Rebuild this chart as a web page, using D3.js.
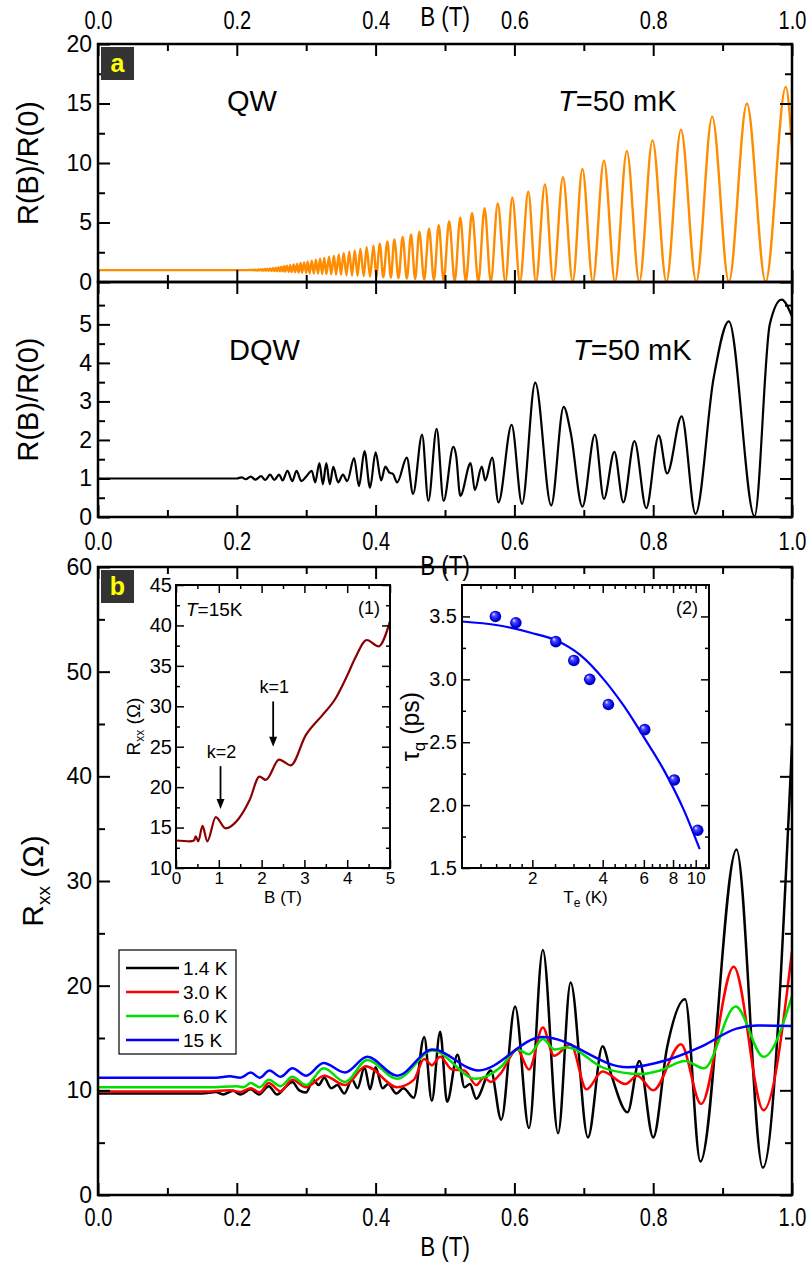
<!DOCTYPE html>
<html><head><meta charset="utf-8">
<script src="https://cdn.jsdelivr.net/npm/d3@7/dist/d3.min.js"></script>
<style>
html,body{margin:0;padding:0;background:#fff;}
svg{display:block;}
text{font-family:"Liberation Sans",Arial,Helvetica,sans-serif;fill:#000;}
</style></head>
<body><svg id="chart" width="811" height="1262"></svg>
<script>
// ================= DATA =================
// panel a (QW): maxima and minima of the orange trace
const qwPeakB=[0.221,0.224,0.227,0.231,0.234,0.237,0.241,0.244,0.248,0.252,0.256,0.260,0.264,0.268,0.272,0.277,0.282,0.287,0.292,0.297,0.302,0.308,0.314,0.320,0.326,0.333,0.340,0.347,0.354,0.362,0.370,0.378,0.387,0.397,0.406,0.417,0.427,0.439,0.451,0.463,0.477,0.491,0.506,0.522,0.539,0.557,0.576,0.597,0.620,0.644,0.670,0.698,0.729,0.762,0.799,0.840,0.885,0.935,0.991];
const qwPeakR=[1.02,1.03,1.04,1.05,1.06,1.08,1.10,1.12,1.14,1.17,1.20,1.24,1.28,1.32,1.37,1.42,1.47,1.52,1.60,1.65,1.72,1.80,1.87,1.95,2.03,2.12,2.22,2.32,2.43,2.54,2.65,2.78,2.92,3.08,3.22,3.40,3.58,3.78,4.00,4.22,4.48,4.78,5.10,5.42,5.80,6.20,6.60,7.10,7.60,8.20,8.80,9.50,10.2,11.0,11.9,12.8,13.9,15.0,16.4];
const qwValB=[0.223,0.226,0.229,0.232,0.236,0.239,0.242,0.246,0.250,0.254,0.258,0.262,0.266,0.270,0.275,0.279,0.284,0.289,0.294,0.300,0.305,0.311,0.317,0.323,0.329,0.336,0.343,0.350,0.358,0.366,0.374,0.383,0.392,0.401,0.411,0.422,0.433,0.445,0.457,0.470,0.484,0.498,0.514,0.530,0.548,0.566,0.587,0.608,0.631,0.656,0.684,0.713,0.745,0.780,0.819,0.862,0.909,0.962];
const qwValR=[0.98,0.98,0.97,0.97,0.96,0.96,0.95,0.94,0.93,0.92,0.91,0.90,0.89,0.87,0.86,0.84,0.82,0.80,0.78,0.76,0.74,0.72,0.70,0.68,0.66,0.64,0.62,0.60,0.57,0.55,0.52,0.49,0.46,0.43,0.40,0.36,0.32,0.28,0.24,0.20,0.16,0.12,0.08,0.05,0.02,0.02,0.02,0.02,0.02,0.02,0.02,0.02,0.02,0.02,0.02,0.02,0.02,0.02];
const qwEdgeB=[0,0.215,1.0];
const qwEdgeR=[1.0,1.0,11.3];

// panel a (DQW)
const dqwB=[0,0.18,0.2,0.207,0.213,0.22,0.227,0.235,0.241,0.248,0.254,0.261,0.266,0.273,0.28,0.286,0.293,0.3,0.308,0.313,0.319,0.324,0.329,0.334,0.339,0.346,0.353,0.359,0.369,0.376,0.384,0.392,0.4,0.408,0.414,0.42,0.425,0.431,0.445,0.454,0.467,0.476,0.488,0.498,0.512,0.516,0.522,0.537,0.543,0.553,0.558,0.568,0.577,0.596,0.611,0.63,0.653,0.671,0.681,0.698,0.716,0.729,0.744,0.757,0.773,0.79,0.808,0.82,0.841,0.861,0.887,0.909,0.946,0.968,0.985,1.0];
const dqwR=[1.0,1.0,1.0,1.03,0.98,1.05,0.97,1.06,0.96,1.1,0.96,1.1,0.95,1.2,0.93,1.2,0.93,1.05,1.2,0.9,1.4,0.85,1.4,0.85,1.3,0.9,1.1,0.93,1.53,0.8,1.71,0.76,1.68,0.95,1.31,1.15,1.12,0.9,1.54,0.6,2.14,0.42,2.29,0.42,1.82,1.6,0.55,1.4,0.7,1.31,0.95,1.54,0.38,2.39,0.34,3.49,0.30,2.86,2.2,0.27,2.14,0.47,1.69,0.38,1.97,0.23,2.12,1.13,2.61,0.08,3.6,5.08,0.02,5.0,5.64,5.2];

// panel b: Rxx(B) at four temperatures
const k14B=[0,0.15,0.17,0.18,0.195,0.205,0.22,0.232,0.246,0.258,0.27,0.28,0.29,0.30,0.31,0.318,0.326,0.336,0.345,0.355,0.366,0.374,0.384,0.392,0.40,0.41,0.418,0.43,0.44,0.455,0.47,0.481,0.493,0.503,0.518,0.528,0.536,0.545,0.566,0.581,0.601,0.621,0.641,0.663,0.681,0.706,0.727,0.74,0.763,0.78,0.80,0.82,0.846,0.868,0.92,0.958,1.0];
const k14R=[9.7,9.7,9.85,9.6,9.95,9.6,10.1,9.6,10.4,9.6,10.3,10.8,10.0,9.8,11.0,10.5,11.2,10.2,10.5,9.7,11.0,10.2,12.2,10.1,12.2,10.2,10.6,9.7,10.2,9.3,15.1,9.0,15.6,8.9,13.4,10.3,10.6,9.2,11.9,7.2,18.0,6.4,23.4,5.9,20.3,5.5,14.2,11.4,7.9,12.8,5.5,14.1,18.7,3.2,33.0,2.6,43.0];
const k30B=[0,0.16,0.19,0.205,0.22,0.233,0.246,0.263,0.28,0.30,0.326,0.356,0.386,0.431,0.455,0.47,0.481,0.493,0.51,0.528,0.545,0.556,0.566,0.58,0.604,0.621,0.641,0.657,0.681,0.704,0.727,0.76,0.777,0.80,0.84,0.869,0.916,0.959,1.0];
const k30R=[9.9,9.9,10.0,9.85,10.2,9.8,10.7,9.9,11.0,10.3,11.4,10.5,12.3,10.3,11.0,13.0,12.4,13.2,12.0,11.9,10.5,11.2,10.8,11.6,13.9,12.0,16.0,13.3,14.4,10.1,11.8,10.6,11.4,10.0,14.4,8.7,21.8,8.1,23.3];
const k60B=[0,0.16,0.2,0.21,0.22,0.233,0.246,0.263,0.28,0.30,0.325,0.356,0.388,0.431,0.482,0.545,0.58,0.604,0.621,0.641,0.658,0.676,0.73,0.783,0.81,0.846,0.873,0.919,0.959,1.0];
const k60R=[10.3,10.3,10.4,10.3,10.7,10.3,11.0,10.4,11.3,10.5,12.1,10.8,12.9,11.1,13.8,11.1,12.2,13.9,13.45,14.9,13.9,14.1,12.1,11.55,11.9,12.8,12.1,18.0,13.2,19.0];
const k15B=[0,0.17,0.19,0.205,0.22,0.233,0.247,0.263,0.28,0.30,0.325,0.356,0.388,0.431,0.482,0.548,0.641,0.763,0.82,0.87,0.92,0.95,1.0];
const k15R=[11.2,11.2,11.35,11.2,11.7,11.2,11.9,11.3,12.1,11.4,12.6,11.7,13.2,11.4,13.9,11.9,15.1,12.2,12.9,14.2,15.9,16.2,16.15];
const legendLabels=["1.4 K","3.0 K","6.0 K","15 K"];
const seriesColors=["#000000","#ff0000","#00e000","#0000ff"];

// inset (1): Rxx(B) at T=15K up to 5 T
const in1B=[0,0.32,0.42,0.46,0.52,0.62,0.73,0.93,1.16,1.45,1.72,1.95,2.10,2.41,2.68,3.03,3.42,3.72,4.0,4.19,4.46,4.73,5.0];
const in1R=[13.4,13.3,13.4,13.9,13.3,15.2,13.3,16.3,14.9,16.0,18.4,21.3,20.9,23.4,22.7,26.4,28.9,30.9,33.8,36.0,38.2,37.4,40.5];
const arrowB=[1.04,2.27], arrowTop=[22.6,30.6], arrowTip=[17.3,25.0], arrowLabels=["k=2","k=1"];

// inset (2): quantum lifetime vs electron temperature
const teK=[1.39,1.70,2.52,3.01,3.52,4.23,6.05,8.1,10.2];
const tauQ=[3.50,3.45,3.30,3.15,3.00,2.80,2.60,2.20,1.80];
const fitTe=[1.0,1.42,1.97,2.52,3.22,4.04,4.92,6.0,7.3,8.9,10.4];
const fitTau=[3.46,3.43,3.37,3.31,3.19,3.0,2.79,2.54,2.28,1.96,1.65];

// tick values
const xMajor=[0,0.2,0.4,0.6,0.8,1.0], xMinor=[0.1,0.3,0.5,0.7,0.9];
const a1Major=[0,5,10,15,20], a1Minor=[2.5,7.5,12.5,17.5];
const a2Major=[0,1,2,3,4,5], a2Minor=[0.5,1.5,2.5,3.5,4.5,5.5];
const bMajor=[0,10,20,30,40,50,60], bMinor=[5,15,25,35,45,55];
const i1xMajor=[0,1,2,3,4,5], i1xMinor=[0.5,1.5,2.5,3.5,4.5];
const i1yMajor=[10,15,20,25,30,35,40,45], i1yMinor=[12.5,17.5,22.5,27.5,32.5,37.5,42.5];
const i2xMajor=[2,4,6,8,10], i2xMinor=[1.2,1.4,1.6,1.8,2.5,3,3.5,4.5,5,5.5,6.5,7,7.5,8.5,9,9.5,11];
const i2yMajor=[1.5,2.0,2.5,3.0,3.5], i2yMinor=[1.75,2.25,2.75,3.25];

// ================= LAYOUT =================
const XL=98, XR=792;
const A1T=44, A1B=282, A2T=282, A2B=517, BT=567, BB=1195;
const I1={l:176,r:390,t:585,b:868}, I2={l:462,r:709,t:585,b:868};
const svg=d3.select('#chart');
const zip=(a,b)=>a.map((v,i)=>[v,b[i]]);

const x=d3.scaleLinear().domain([0,1]).range([XL,XR]);
const yA1=d3.scaleLinear().domain([0,20]).range([A1B,A1T]);
const yA2=d3.scaleLinear().domain([0,6.1]).range([A2B,A2T]);
const yB=d3.scaleLinear().domain([0,60]).range([BB,BT]);
const x1=d3.scaleLinear().domain([0,5]).range([I1.l,I1.r]);
const y1=d3.scaleLinear().domain([10,45]).range([I1.b,I1.t]);
const x2=d3.scaleLog().domain([1,11.4]).range([I2.l,I2.r]);
const y2=d3.scaleLinear().domain([1.5,3.75]).range([I2.b,I2.t]);

function axisG(tr, axis, o){
  const g=svg.append('g').attr('transform',tr).call(axis);
  g.attr('font-size',null).attr('font-family',null);
  g.select('.domain').remove();
  g.selectAll('line').attr('stroke','#000').attr('stroke-width',o.sw||2);
  g.selectAll('text').attr('font-size',o.fs||22).attr('fill','#000');
  if(o.narrow) g.selectAll('text').attr('transform','scale(0.8,1)');
  return g;
}
function frame(xs,ys,o){
  const [xa,xb]=xs.range(), [ya,yb]=ys.range();
  const none=()=>'';
  const M=o.maj, m=o.min, sw=o.sw;
  axisG(`translate(0,${ya})`, d3.axisBottom(xs).tickValues(o.xMaj).tickSize(-M).tickPadding(o.xPad).tickFormat(o.bottomFmt||none), {sw,fs:o.xfs,narrow:o.narrow});
  axisG(`translate(0,${ya})`, d3.axisBottom(xs).tickValues(o.xMin).tickSize(-m).tickFormat(none), {sw});
  axisG(`translate(0,${yb})`, d3.axisTop(xs).tickValues(o.xMaj).tickSize(-M).tickPadding(o.xPad).tickFormat(o.topFmt||none), {sw,fs:o.xfs,narrow:o.narrow});
  axisG(`translate(0,${yb})`, d3.axisTop(xs).tickValues(o.xMin).tickSize(-m).tickFormat(none), {sw});
  axisG(`translate(${xa},0)`, d3.axisLeft(ys).tickValues(o.yMaj).tickSize(-M).tickPadding(o.yPad).tickFormat(o.leftFmt||none), {sw,fs:o.yfs});
  axisG(`translate(${xa},0)`, d3.axisLeft(ys).tickValues(o.yMin).tickSize(-m).tickFormat(none), {sw});
  axisG(`translate(${xb},0)`, d3.axisRight(ys).tickValues(o.yMaj).tickSize(-M).tickFormat(none), {sw});
  axisG(`translate(${xb},0)`, d3.axisRight(ys).tickValues(o.yMin).tickSize(-m).tickFormat(none), {sw});
  svg.append('rect').attr('x',xa).attr('y',yb).attr('width',xb-xa).attr('height',ya-yb)
    .attr('fill','none').attr('stroke','#000').attr('stroke-width',o.box);
}
function clip(id,xa,ya,w,h){
  svg.append('clipPath').attr('id',id).append('rect').attr('x',xa).attr('y',ya).attr('width',w).attr('height',h);
  return `url(#${id})`;
}
function badge(top,letter){
  svg.append('rect').attr('x',XL+3).attr('y',top+3).attr('width',33).attr('height',33).attr('fill','#333');
  svg.append('text').attr('x',XL+19.5).attr('y',top+28).attr('text-anchor','middle')
    .attr('font-size',25).attr('font-weight','bold').style('fill','#ffff00').text(letter);
}
function tLabel(xp,yp,size){
  const t=svg.append('text').attr('x',xp).attr('y',yp).attr('font-size',size);
  t.append('tspan').attr('font-style','italic').text('T');
  t.append('tspan').text('=50 mK');
}
const fmt1=d3.format('.1f'), fmt0=d3.format('d');

// ================= PANEL a (QW) =================
const qwPts=zip(qwPeakB,qwPeakR).concat(zip(qwValB,qwValR)).concat(zip(qwEdgeB,qwEdgeR)).sort((a,b)=>a[0]-b[0]);
const cA1=clip('cA1',XL,A1T,XR-XL,A1B-A1T);
svg.append('path').datum(qwPts).attr('clip-path',cA1)
  .attr('d',d3.line().x(d=>x(d[0])).y(d=>yA1(d[1])).curve(d3.curveMonotoneX))
  .attr('fill','none').attr('stroke','#ff8c00').attr('stroke-width',2.4).attr('stroke-linejoin','round');
frame(x,yA1,{xMaj:xMajor,xMin:xMinor,yMaj:a1Major,yMin:a1Minor,maj:12,min:7,sw:2,box:2.5,
  xPad:15,yPad:6,topFmt:fmt1,leftFmt:fmt0,xfs:25,yfs:23,narrow:true});

// ================= PANEL a (DQW) =================
const cA2=clip('cA2',XL,A2T,XR-XL,A2B-A2T);
svg.append('path').datum(zip(dqwB,dqwR)).attr('clip-path',cA2)
  .attr('d',d3.line().x(d=>x(d[0])).y(d=>yA2(d[1])).curve(d3.curveMonotoneX))
  .attr('fill','none').attr('stroke','#000').attr('stroke-width',2.2).attr('stroke-linejoin','round');
frame(x,yA2,{xMaj:xMajor,xMin:xMinor,yMaj:a2Major,yMin:a2Minor,maj:12,min:7,sw:2,box:2.5,
  xPad:15,yPad:6,bottomFmt:fmt1,leftFmt:fmt0,xfs:25,yfs:23,narrow:true});

badge(A1T,'a');
svg.append('text').attr('x',227).attr('y',111).attr('font-size',29).text('QW');
tLabel(558,111,29);
svg.append('text').attr('x',229).attr('y',360).attr('font-size',29).text('DQW');
tLabel(573,360,29);

svg.append('text').attr('transform',`translate(${(XL+XR)/2},26) scale(0.8,1)`).attr('text-anchor','middle').attr('font-size',28).text('B (T)');
svg.append('text').attr('transform',`translate(${(XL+XR)/2},575) scale(0.8,1)`).attr('text-anchor','middle').attr('font-size',28).text('B (T)');
svg.append('text').attr('transform',`translate(28,${(A1T+A1B)/2}) rotate(-90)`).attr('text-anchor','middle').attr('dy','0.35em').attr('font-size',29).text('R(B)/R(0)');
svg.append('text').attr('transform',`translate(28,${(A2T+A2B)/2}) rotate(-90)`).attr('text-anchor','middle').attr('dy','0.35em').attr('font-size',29).text('R(B)/R(0)');

// ================= PANEL b =================
const cB=clip('cB',XL,BT,XR-XL,BB-BT);
const lineB=d3.line().x(d=>x(d[0])).y(d=>yB(d[1])).curve(d3.curveMonotoneX);
const seriesB=[zip(k14B,k14R),zip(k30B,k30R),zip(k60B,k60R),zip(k15B,k15R)];
seriesB.forEach((s,i)=>{
  svg.append('path').datum(s).attr('clip-path',cB).attr('d',lineB)
    .attr('fill','none').attr('stroke',seriesColors[i]).attr('stroke-width',2.5).attr('stroke-linejoin','round');
});
frame(x,yB,{xMaj:xMajor,xMin:xMinor,yMaj:bMajor,yMin:bMinor,maj:12,min:7,sw:2,box:2.5,
  xPad:13,yPad:6,bottomFmt:fmt1,leftFmt:fmt0,xfs:25,yfs:23,narrow:true});
badge(BT,'b');
svg.append('text').attr('transform',`translate(${(XL+XR)/2},1256) scale(0.8,1)`).attr('text-anchor','middle').attr('font-size',28).text('B (T)');
{
  const t=svg.append('text').attr('transform',`translate(32,${(BT+BB)/2}) rotate(-90)`).attr('text-anchor','middle').attr('dy','0.35em').attr('font-size',30);
  t.append('tspan').text('R');
  t.append('tspan').attr('font-size',19).attr('dy',7).text('xx');
  t.append('tspan').attr('dy',-7).text(' (Ω)');
}
{
  const lx=119, ly=950, lw=117, lh=104;
  svg.append('rect').attr('x',lx).attr('y',ly).attr('width',lw).attr('height',lh).attr('fill','#fff').attr('stroke','#000').attr('stroke-width',1.2);
  legendLabels.forEach((lab,i)=>{
    const yy=ly+18+i*24;
    svg.append('line').attr('x1',lx+7).attr('x2',lx+60).attr('y1',yy).attr('y2',yy).attr('stroke',seriesColors[i]).attr('stroke-width',2.5);
    svg.append('text').attr('x',lx+64).attr('y',yy+7).attr('font-size',19).text(lab);
  });
}

// ================= INSET 1 =================
svg.append('rect').attr('x',I1.l).attr('y',I1.t).attr('width',I1.r-I1.l).attr('height',I1.b-I1.t).attr('fill','#fff');
svg.append('path').datum(zip(in1B,in1R))
  .attr('d',d3.line().x(d=>x1(d[0])).y(d=>y1(d[1])).curve(d3.curveMonotoneX))
  .attr('fill','none').attr('stroke','#8b0000').attr('stroke-width',2.2);
frame(x1,y1,{xMaj:i1xMajor,xMin:i1xMinor,yMaj:i1yMajor,yMin:i1yMinor,maj:8,min:4,sw:1.5,box:2,
  xPad:4,yPad:4,bottomFmt:fmt0,leftFmt:fmt0,xfs:17,yfs:20});
{
  const t=svg.append('text').attr('x',186).attr('y',616).attr('font-size',19);
  t.append('tspan').attr('font-style','italic').text('T');
  t.append('tspan').text('=15K');
}
svg.append('text').attr('x',I1.r-10).attr('y',614).attr('text-anchor','end').attr('font-size',18).text('(1)');
arrowB.forEach((b,i)=>{
  const ax=x1(b), ya=y1(arrowTop[i]), yt=y1(arrowTip[i]);
  svg.append('line').attr('x1',ax).attr('x2',ax).attr('y1',ya).attr('y2',yt-8).attr('stroke','#000').attr('stroke-width',1.8);
  svg.append('path').attr('d',`M${ax-4},${yt-10}L${ax+4},${yt-10}L${ax},${yt}Z`).attr('fill','#000');
  svg.append('text').attr('x',ax+1).attr('y',ya-8).attr('text-anchor','middle').attr('font-size',18).text(arrowLabels[i]);
});
svg.append('text').attr('x',(I1.l+I1.r)/2).attr('y',903).attr('text-anchor','middle').attr('font-size',17).text('B (T)');
{
  const t=svg.append('text').attr('transform',`translate(133,${(I1.t+I1.b)/2}) rotate(-90)`).attr('text-anchor','middle').attr('dy','0.35em').attr('font-size',19);
  t.append('tspan').text('R');
  t.append('tspan').attr('font-size',12).attr('dy',4).text('xx');
  t.append('tspan').attr('dy',-4).text(' (Ω)');
}

// ================= INSET 2 =================
svg.append('rect').attr('x',I2.l).attr('y',I2.t).attr('width',I2.r-I2.l).attr('height',I2.b-I2.t).attr('fill','#fff');
const cI2=clip('cI2',I2.l,I2.t,I2.r-I2.l,I2.b-I2.t);
svg.append('path').datum(zip(fitTe,fitTau)).attr('clip-path',cI2)
  .attr('d',d3.line().x(d=>x2(d[0])).y(d=>y2(d[1])).curve(d3.curveMonotoneX))
  .attr('fill','none').attr('stroke','#0000ff').attr('stroke-width',2.2);
{
  const defs=svg.append('defs');
  const gr=defs.append('radialGradient').attr('id','ball').attr('cx','50%').attr('cy','50%').attr('r','55%').attr('fx','32%').attr('fy','28%');
  gr.append('stop').attr('offset','0%').attr('stop-color','#eef0ff');
  gr.append('stop').attr('offset','30%').attr('stop-color','#4a4aff');
  gr.append('stop').attr('offset','75%').attr('stop-color','#0000e0');
  gr.append('stop').attr('offset','100%').attr('stop-color','#00009a');
}
svg.append('g').selectAll('circle').data(zip(teK,tauQ)).join('circle')
  .attr('cx',d=>x2(d[0])).attr('cy',d=>y2(d[1])).attr('r',5.8).attr('fill','url(#ball)');
frame(x2,y2,{xMaj:i2xMajor,xMin:i2xMinor,yMaj:i2yMajor,yMin:i2yMinor,maj:8,min:4,sw:1.5,box:2,
  xPad:4,yPad:5,bottomFmt:fmt0,leftFmt:fmt1,xfs:17,yfs:20});
svg.append('text').attr('x',I2.r-11).attr('y',614).attr('text-anchor','end').attr('font-size',18).text('(2)');
{
  const t=svg.append('text').attr('x',(I2.l+I2.r)/2).attr('y',903).attr('text-anchor','middle').attr('font-size',17);
  t.append('tspan').text('T');
  t.append('tspan').attr('font-size',12).attr('dy',4).text('e');
  t.append('tspan').attr('dy',-4).text(' (K)');
}
{
  const t=svg.append('text').attr('transform',`translate(410,${(I2.t+I2.b)/2}) rotate(-90)`).attr('text-anchor','middle').attr('dy','0.35em').attr('font-size',25);
  t.append('tspan').text('τ');
  t.append('tspan').attr('font-size',17).attr('dy',6).text('q');
  t.append('tspan').attr('dy',-6).text(' (ps)');
}
</script></body></html>
